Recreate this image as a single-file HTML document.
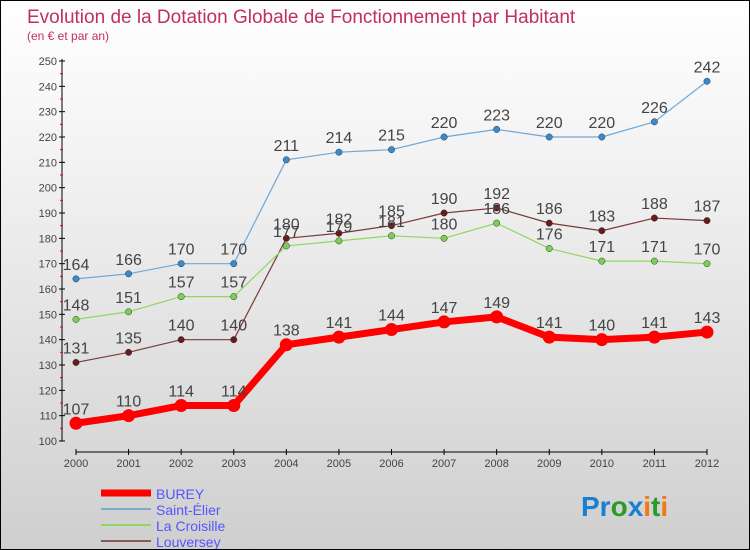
<!DOCTYPE html>
<html><head><meta charset="utf-8"><style>
body{margin:0}
#c{position:relative;width:748px;height:548px;border:1px solid #000;background:linear-gradient(#fff,#f2f2f2 30%,#cfcfcf);font-family:"Liberation Sans",sans-serif;overflow:hidden}
svg{position:absolute;left:0;top:0}
</style></head><body>
<div id="c">
<svg id="s" width="748" height="548">
<text x="26" y="22" font-size="19" fill="#c0305a">Evolution de la Dotation Globale de Fonctionnement par Habitant</text>
<text x="26" y="39" font-size="12" fill="#c0305a">(en € et par an)</text>
<text x="580" y="515" font-size="28" font-weight="bold"><tspan fill="#1a7fd0">Pr</tspan><tspan fill="#2a9a2a">o</tspan><tspan fill="#1a7fd0">x</tspan><tspan fill="#f07a10">i</tspan><tspan fill="#2a9a2a">t</tspan><tspan fill="#f07a10">i</tspan></text>
</svg>
</div>
<script>
const years=[2000,2001,2002,2003,2004,2005,2006,2007,2008,2009,2010,2011,2012];
const yTicks=[100,110,120,130,140,150,160,170,180,190,200,210,220,230,240,250];
const burey=[107,110,114,114,138,141,144,147,149,141,140,141,143];
const saintElier=[164,166,170,170,211,214,215,220,223,220,220,226,242];
const laCroisille=[148,151,157,157,177,179,181,180,186,176,171,171,170];
const louversey=[131,135,140,140,180,182,185,190,192,186,183,188,187];
const NS="http://www.w3.org/2000/svg";
const s=document.getElementById('s');
const X=i=>75+i*(706-75)/12;
const Y=v=>440-(v-100)*380/150;
function el(t,a){const e=document.createElementNS(NS,t);for(const k in a)e.setAttribute(k,a[k]);s.appendChild(e);return e;}
let ax=el('line',{x1:61,y1:58,x2:61,y2:440,stroke:'#000'});

let bx=el('line',{x1:75,y1:451,x2:706,y2:451,stroke:'#000'});

yTicks.forEach(v=>{
 el('line',{x1:58,y1:Y(v),x2:64,y2:Y(v),stroke:'#000'});
 if(v<250)el('line',{x1:59,y1:Y(v+5),x2:62,y2:Y(v+5),stroke:'#e00'});
 const t=el('text',{x:56,y:Y(v)+4,'font-size':11,fill:'#444','text-anchor':'end'});t.textContent=v;
 
 
});
years.forEach((y,i)=>{
 el('line',{x1:X(i),y1:448,x2:X(i),y2:454,stroke:'#000'});
 const t=el('text',{x:X(i),y:466,'font-size':11,fill:'#444','text-anchor':'middle'});t.textContent=y;
 
 
});
function series(d,color,dot,w,r,name,labelColor,fs){
 const p=el('polyline',{points:d.map((v,i)=>X(i)+','+Y(v)).join(' '),fill:'none',stroke:color,'stroke-width':w,'stroke-linejoin':'round'});
 
 
 d.forEach((v,i)=>{
  const c=el('circle',{cx:X(i),cy:Y(v),r:r,fill:dot,stroke:'#333','stroke-width':w>3?0:0.5});
  
  
  const t=el('text',{x:X(i),y:Y(v)-9,'font-size':fs,fill:'#444','text-anchor':'middle'});t.textContent=v;
  
  
 });
}
series(louversey,'#7a3a3a','#6a1a1a',1.2,3.2,'louversey');
series(laCroisille,'#8ed860','#7cd050',1.2,3.2,'la-croisille');
series(saintElier,'#6ea8d8','#3a8ad0',1.2,3.2,'saint-elier');
series(burey,'#f00','#f00',7,6.5,'burey');
const leg=[['BUREY','#f00',7],['Saint-Élier','#7aaad0',2],['La Croisille','#90d860',2],['Louversey','#8a5a5a',2]];
leg.forEach((l,i)=>{
 const y=492+i*16;
 const ln=el('line',{x1:100,y1:y,x2:150,y2:y,stroke:l[1],'stroke-width':l[2]});
 
 
 const t=el('text',{x:155,y:y+6,'font-size':14,fill:'#5555ff'});t.textContent=l[0];
 
 
});
</script>
</body></html>
